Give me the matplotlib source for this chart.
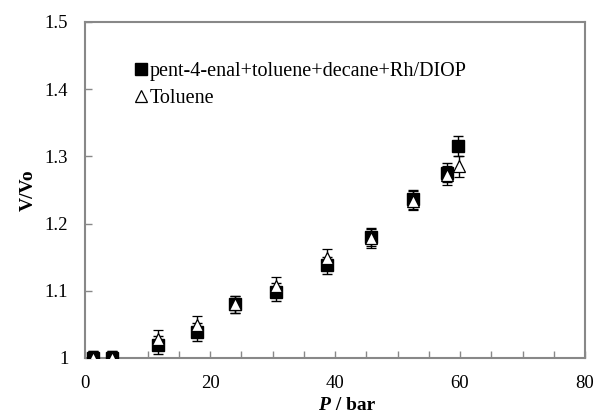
import matplotlib
matplotlib.use("Agg")
import matplotlib.pyplot as plt
from matplotlib.lines import Line2D
from matplotlib.ticker import MultipleLocator

plt.rcParams['font.family'] = ['Liberation Serif', 'DejaVu Serif']

# Data
p_mix = [1.3, 4.3, 11.7, 17.9, 24.0, 30.6, 38.7, 45.7, 52.5, 57.9, 59.7]
v_mix = [1.000, 1.000, 1.019, 1.039, 1.080, 1.098, 1.138, 1.180, 1.236, 1.276, 1.316]
p_tol = [1.3, 4.3, 11.7, 17.9, 24.0, 30.6, 38.7, 45.7, 52.5, 57.9, 59.8]
v_tol = [1.000, 1.000, 1.028, 1.049, 1.080, 1.107, 1.149, 1.178, 1.234, 1.272, 1.285]
err_mix = [0.01, 0.01, 0.013, 0.013, 0.013, 0.013, 0.013, 0.014, 0.014, 0.014, 0.015]
err_tol = [0.01, 0.01, 0.013, 0.013, 0.013, 0.013, 0.013, 0.014, 0.014, 0.014, 0.015]
labels = ["pent-4-enal+toluene+decane+Rh/DIOP", "Toluene"]

fig = plt.figure(figsize=(5.96, 4.16), dpi=100)
ax = fig.add_axes([85/596, 1-358/416, 500/596, 336/416])

ax.errorbar(p_mix, v_mix, yerr=err_mix, fmt='s', ms=8.5, mfc='black', mec='black',
            ecolor='black', elinewidth=1, capsize=3.6, capthick=1, zorder=3)
ax.errorbar(p_tol, v_tol, yerr=err_tol, fmt='^', ms=8.5, mfc='white', mec='black',
            mew=0.9, ecolor='black', elinewidth=1, capsize=3.6, capthick=1, zorder=4)

ax.set_xlim(0, 80)
ax.set_ylim(1.0, 1.5)
ax.xaxis.set_major_locator(MultipleLocator(20))
ax.xaxis.set_minor_locator(MultipleLocator(5))
ax.set_yticks([1.0, 1.1, 1.2, 1.3, 1.4, 1.5])
ax.set_yticklabels(['1', '1.1', '1.2', '1.3', '1.4', '1.5'])
ax.tick_params(axis='both', which='both', direction='in', color='#888888',
               labelsize=13.5, length=5, width=1)
ax.tick_params(axis='x', which='major', pad=12)
ax.tick_params(axis='y', which='major', pad=12)
for s in ax.spines.values():
    s.set_color('#888888')
    s.set_linewidth(1.5)

# x label with bold italic P
fig.text(330/596, 1-410/416, 'P', fontsize=14, fontweight='bold', fontstyle='italic',
         ha='right', va='baseline')
fig.text(331/596, 1-410/416, ' / bar', fontsize=14, fontweight='bold',
         ha='left', va='baseline')
ax.set_ylabel('V/Vo', fontsize=14, fontweight='bold', labelpad=6)

handles = [Line2D([], [], marker='s', ls='none', color='black', ms=8),
           Line2D([], [], marker='^', ls='none', mfc='white', mec='black', ms=8.5, mew=0.9)]
ax.legend(handles, labels, loc='upper left', bbox_to_anchor=(0.085, 0.905), frameon=False,
          fontsize=14.5, handlelength=0.5, handletextpad=0.2, labelspacing=0.4, borderaxespad=0)

fig.savefig('out.png', dpi=100)
